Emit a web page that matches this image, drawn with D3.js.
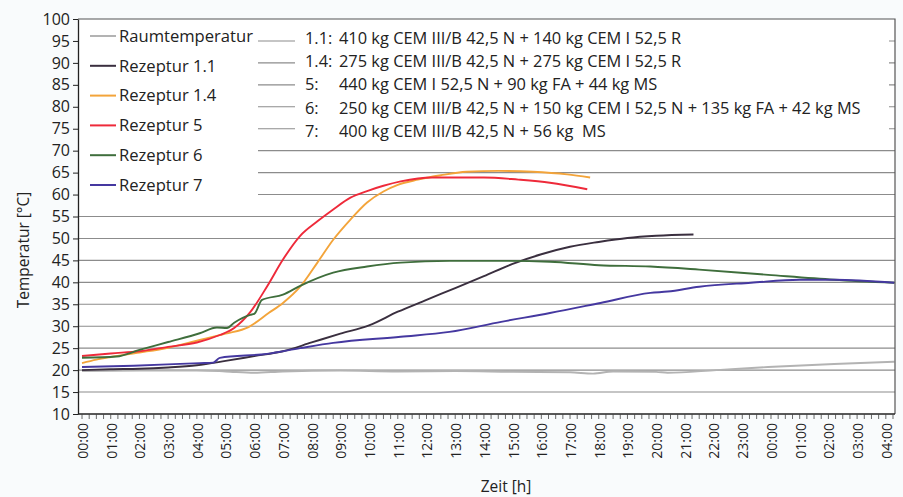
<!DOCTYPE html>
<html>
<head>
<meta charset="utf-8">
<script src="https://cdn.jsdelivr.net/npm/d3@7"></script>
<style>
  body { margin: 0; background: #f9fbfc; }
  svg { display: block; font-family: "Open Sans", sans-serif; }
</style>
</head>
<body>
<svg id="chart" width="903" height="497"></svg>
<script>
// hour labels on x axis (00:00 .. 04:00 next day)
const hourLabels = d3.range(0, 29).map(h => String(h % 24).padStart(2, "0") + ":00");
const yTicks = d3.range(10, 101, 5);

// [hour, temperature]
const raum = [[0,19.8],[2,19.9],[4,19.9],[5,19.7],[6,19.4],[7,19.7],[9,19.9],[11,19.7],[13,19.8],[15,19.6],[17,19.5],[17.8,19.2],[18.5,19.7],[20,19.6],[20.4,19.4],[22.1,20],[23.9,20.7],[26.2,21.4],[28.3,21.9]];
const rez11 = [[0,20],[1,20.2],[2,20.3],[3,20.6],[4,21.1],[5,22.1],[6,23.2],[7,24.3],[8,26.3],[9,28.3],[10,30.2],[11,33.3],[12,36],[13,38.7],[14,41.4],[15,44.2],[16,46.4],[17,48.1],[18,49.2],[19,50.1],[20,50.6],[21.3,50.9]];
const rez14 = [[0,21.6],[0.5,22.4],[1,23],[2,24],[3,25.1],[4,26.7],[5,28.3],[5.8,29.8],[6.5,33],[7,35.3],[7.6,39],[8.2,44.5],[8.75,49.7],[9.35,54.3],[9.93,58.2],[10.5,60.7],[11,62.2],[11.7,63.4],[12.5,64.4],[13.4,65.2],[14.5,65.4],[15.7,65.2],[16.9,64.6],[17.7,63.9]];
const rez5 = [[0,23.2],[1,23.8],[2,24.3],[3,25.3],[4,26.3],[4.8,28],[5.3,29.6],[5.86,33.2],[6.44,39],[7,45.2],[7.6,50.6],[8.2,53.9],[8.75,56.6],[9.35,59.3],[9.93,60.8],[10.5,62],[11.1,63],[12.2,63.9],[14,63.9],[15.2,63.4],[16.3,62.7],[17.6,61.2]];
const rez6 = [[0,22.8],[1.2,23.1],[2,24.6],[3,26.4],[4.1,28.4],[4.7,29.7],[5.05,29.6],[5.3,30.8],[5.86,32.6],[6,32.8],[6.27,36],[7,37.2],[7.6,39.2],[8.75,42.2],[9.93,43.6],[11.1,44.5],[12.8,44.9],[14.6,44.9],[16.3,44.7],[18,43.9],[19.8,43.6],[21.5,42.9],[23.9,41.7],[26.2,40.6],[28.3,39.9]];
const rez7 = [[0,20.7],[1.8,21],[4.1,21.6],[4.57,21.7],[4.8,22.8],[6.44,23.7],[7.6,25],[8.75,26.2],[11.1,27.6],[12.8,28.7],[14.6,31],[16.3,33],[18.06,35.3],[19.8,37.6],[20.4,37.9],[21.5,39],[23.3,39.9],[25,40.6],[26.2,40.6],[28.3,39.9]];

const seriesNames = ["Raumtemperatur", "Rezeptur 1.1", "Rezeptur 1.4", "Rezeptur 5", "Rezeptur 6", "Rezeptur 7"];
const seriesColors = ["#b3b3b3", "#3a2f3f", "#f3a43a", "#ee2a3a", "#3f6e3c", "#4538a0"];
const seriesData = [raum, rez11, rez14, rez5, rez6, rez7];

const recipeKeys = ["1.1:", "1.4:", "5:", "6:", "7:"];
const recipeTexts = [
  "410 kg CEM III/B 42,5 N + 140 kg CEM I 52,5 R",
  "275 kg CEM III/B 42,5 N + 275 kg CEM I 52,5 R",
  "440 kg CEM I 52,5 N + 90 kg FA + 44 kg MS",
  "250 kg CEM III/B 42,5 N + 150 kg CEM I 52,5 N + 135 kg FA + 42 kg MS",
  "400 kg CEM III/B 42,5 N + 56 kg  MS"
];

const svg = d3.select("#chart");
const plotLeft = 78, plotRight = 895, plotTop = 19, plotBottom = 414;

const x = d3.scaleLinear().domain([-0.14, 28.32]).range([plotLeft, plotRight]);
const y = d3.scaleLinear().domain([10, 100]).range([plotBottom, plotTop]);

// plot background
svg.append("rect").attr("x", plotLeft).attr("y", plotTop)
  .attr("width", plotRight - plotLeft).attr("height", plotBottom - plotTop).attr("fill", "#fff");

// gridlines
svg.append("g").selectAll("line")
  .data(yTicks.filter(d => d > 10 && d < 100))
  .join("line")
  .attr("x1", plotLeft).attr("x2", plotRight)
  .attr("y1", d => y(d)).attr("y2", d => y(d))
  .attr("stroke", "#8c8c8c").attr("stroke-width", 1.1);

// white boxes behind legend and recipe text
svg.append("rect").attr("x", plotLeft + 1).attr("y", plotTop + 1).attr("width", 179).attr("height", 186).attr("fill", "#fff");
svg.append("rect").attr("x", 295).attr("y", plotTop + 1).attr("width", 594).attr("height", 125).attr("fill", "#fff");

// lines
const line = d3.line().x(d => x(d[0])).y(d => y(d[1])).curve(d3.curveMonotoneX);
svg.append("g").selectAll("path")
  .data(seriesData)
  .join("path")
  .attr("d", line)
  .attr("fill", "none")
  .attr("stroke", (d, i) => seriesColors[i])
  .attr("stroke-width", 1.9);

// frame
svg.append("path")
  .attr("d", `M${plotLeft},${plotTop}H${plotRight}V${plotBottom}`)
  .attr("fill", "none").attr("stroke", "#555").attr("stroke-width", 1.2);

// y axis
svg.append("g")
  .attr("transform", `translate(${plotLeft},0)`)
  .call(d3.axisLeft(y).tickValues(yTicks).tickSize(5).tickSizeOuter(0).tickPadding(3))
  .call(g => g.select(".domain").attr("stroke", "#222").attr("stroke-width", 1.3))
  .call(g => g.selectAll(".tick line").attr("stroke", "#222"))
  .call(g => g.selectAll("text").attr("font-size", 16).attr("fill", "#222").attr("font-family", "Open Sans"));

// x axis: minor ticks every 15 min, labels every hour
const xAxis = svg.append("g").attr("transform", `translate(0,${plotBottom})`);
xAxis.append("line").attr("x1", plotLeft).attr("x2", plotRight).attr("stroke", "#222").attr("stroke-width", 1.3);
xAxis.selectAll(".minor")
  .data(d3.range(0, 28.3, 0.25))
  .join("line")
  .attr("class", "minor")
  .attr("x1", d => x(d)).attr("x2", d => x(d))
  .attr("y1", 0).attr("y2", 5)
  .attr("stroke", "#444").attr("stroke-width", 0.8);
xAxis.selectAll(".lab")
  .data(hourLabels)
  .join("text")
  .attr("class", "lab")
  .attr("transform", (d, i) => `translate(${x(i) + 1},9) rotate(-90)`)
  .attr("text-anchor", "end")
  .attr("dy", "0.35em")
  .attr("font-size", 14)
  .attr("fill", "#222")
  .text(d => d);

// axis titles
svg.append("text")
  .attr("transform", "translate(24,250) rotate(-90)")
  .attr("text-anchor", "middle").attr("dy", "0.35em")
  .attr("font-size", 15.5).attr("fill", "#222")
  .text("Temperatur [°C]");
svg.append("text")
  .attr("x", 506).attr("y", 487)
  .attr("text-anchor", "middle").attr("dy", "0.35em")
  .attr("font-size", 15.5).attr("fill", "#222")
  .text("Zeit [h]");

// legend
const legend = svg.append("g").selectAll("g")
  .data(seriesNames)
  .join("g")
  .attr("transform", (d, i) => `translate(90,${36 + i * 29.8})`);
legend.append("line").attr("x1", 0).attr("x2", 26)
  .attr("stroke", (d, i) => seriesColors[i]).attr("stroke-width", 2);
legend.append("text").attr("x", 29).attr("dy", "0.35em")
  .attr("font-size", 16.6).attr("fill", "#222").text(d => d);

// recipe descriptions
const recipes = svg.append("g").selectAll("g")
  .data(recipeTexts)
  .join("g")
  .attr("transform", (d, i) => `translate(305,${38 + i * 23.3})`);
recipes.append("text").attr("dy", "0.35em").attr("font-size", 16.4).attr("fill", "#222")
  .text((d, i) => recipeKeys[i]);
recipes.append("text").attr("x", 34).attr("dy", "0.35em").attr("font-size", 16.4).attr("fill", "#222")
  .style("white-space", "pre")
  .text(d => d);
</script>
</body>
</html>
